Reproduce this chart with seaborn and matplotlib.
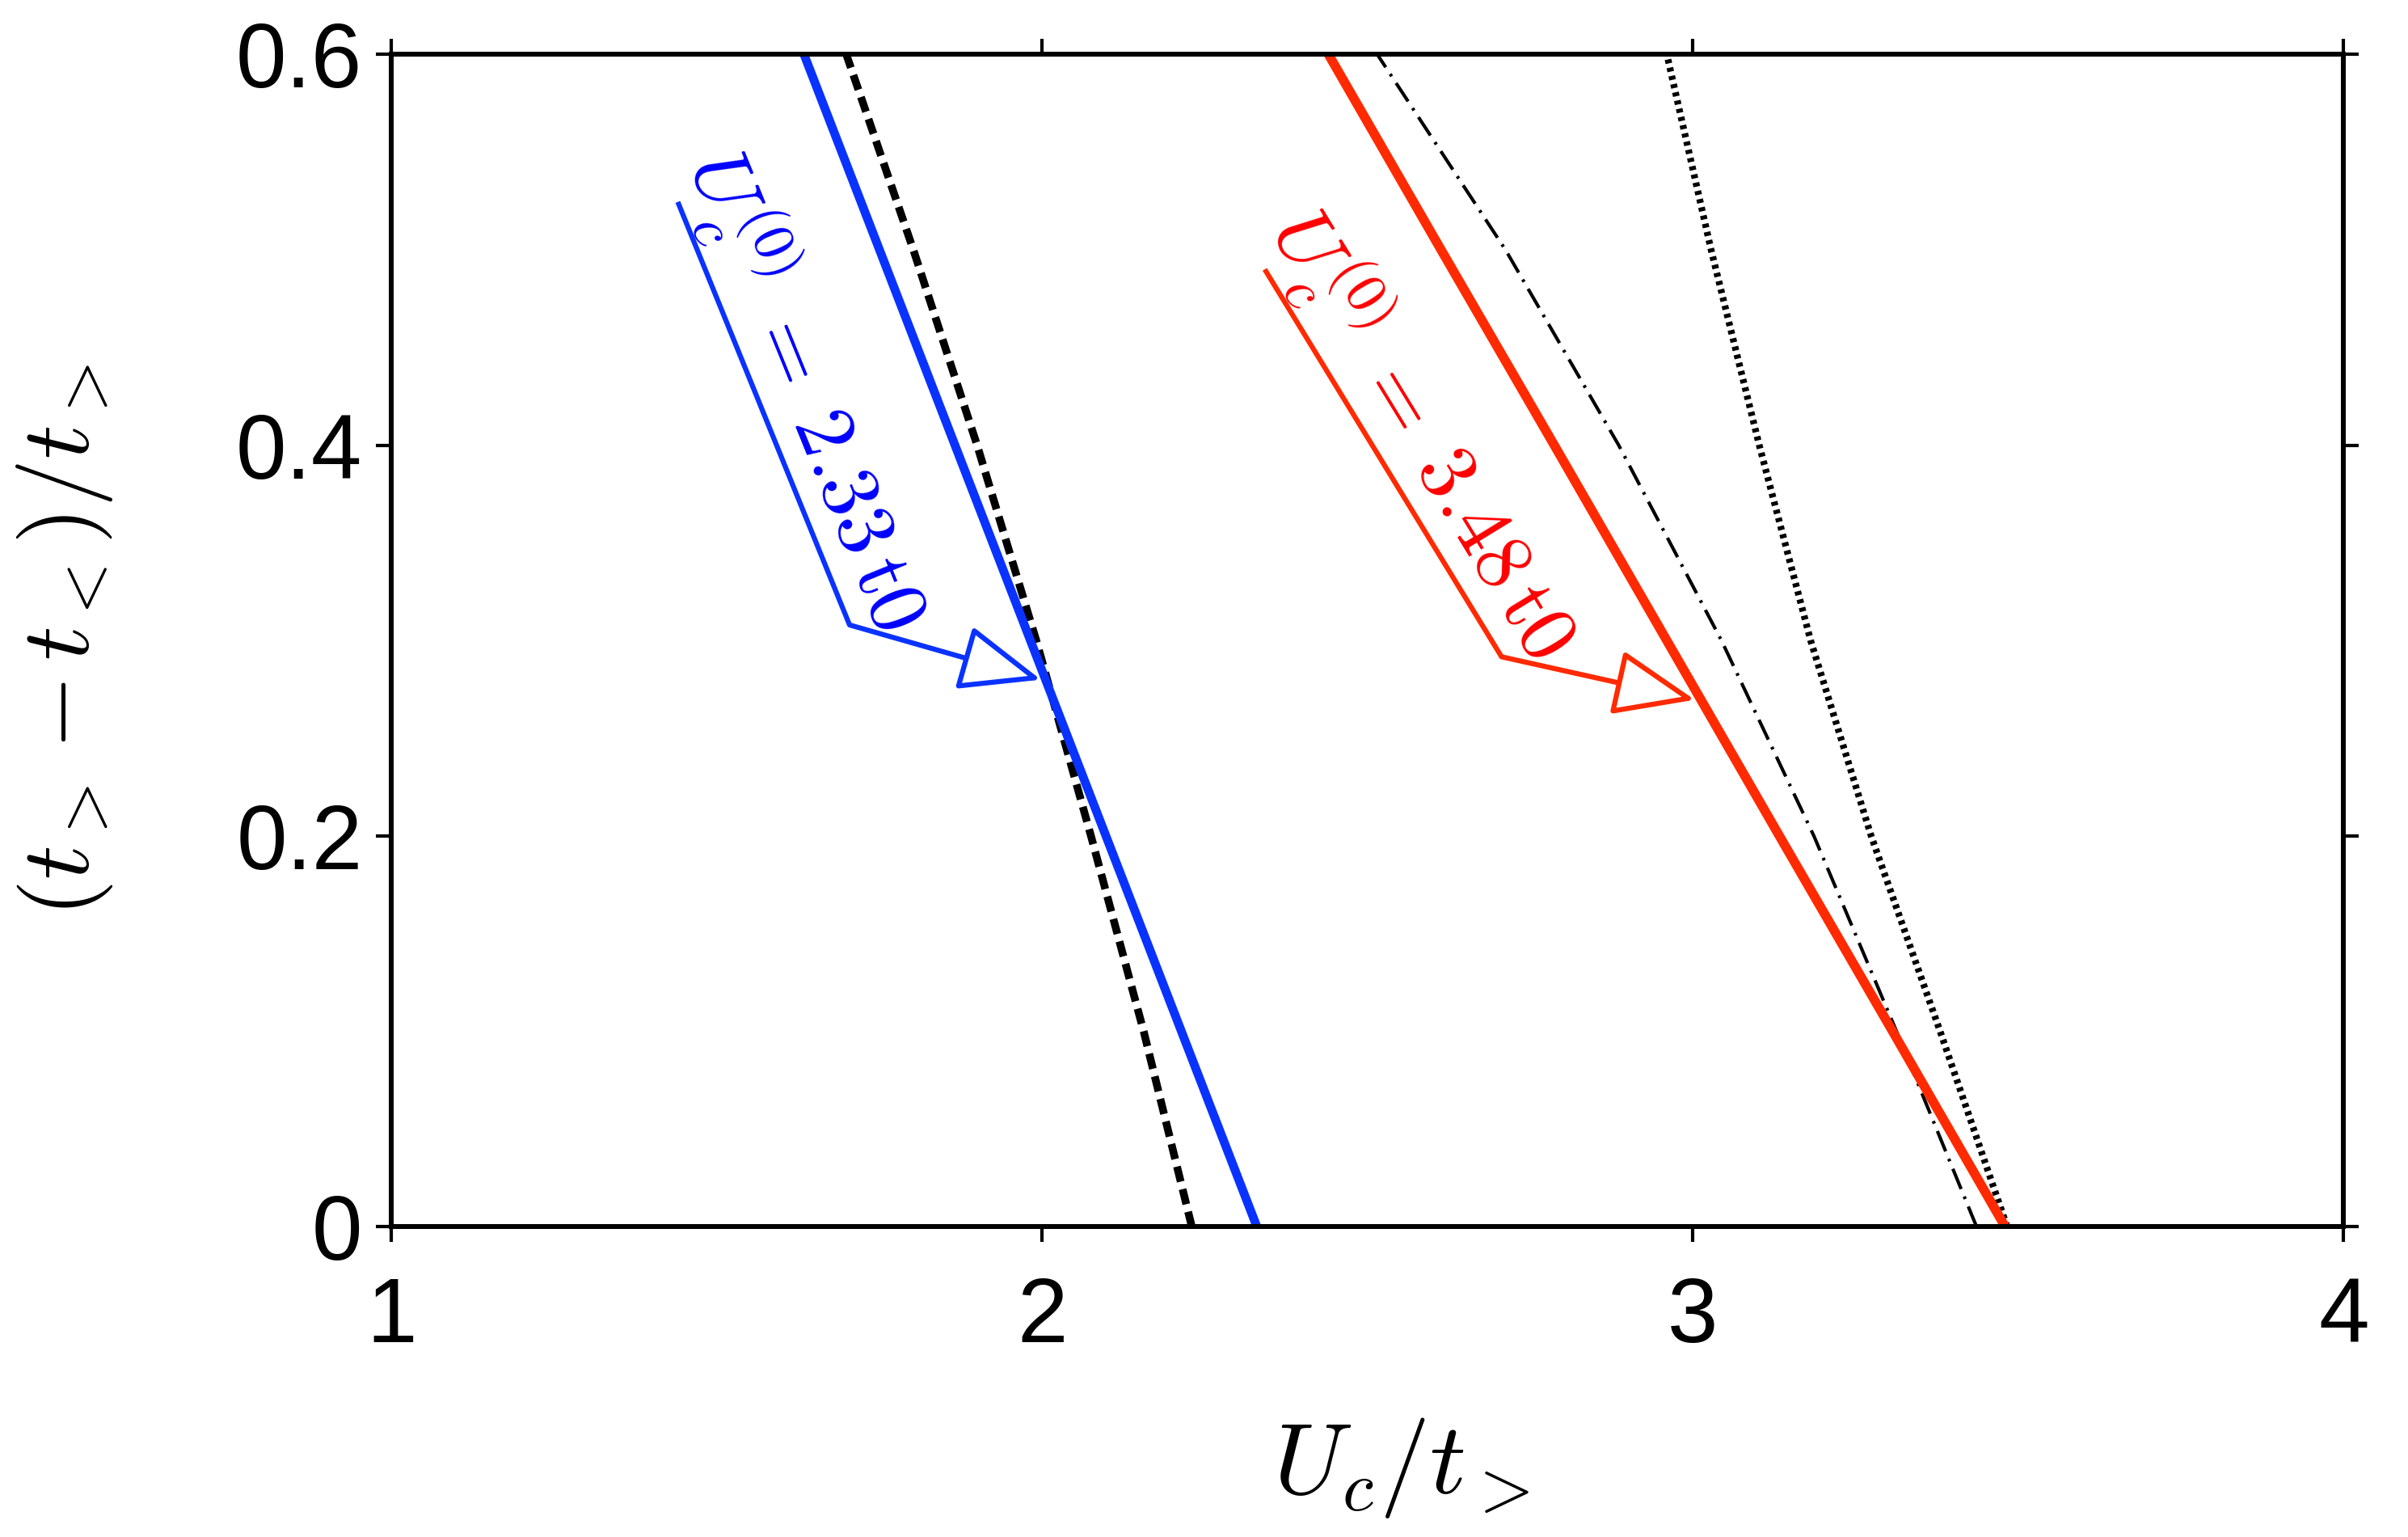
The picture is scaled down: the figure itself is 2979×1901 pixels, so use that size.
import numpy as np
import pandas as pd
import matplotlib
matplotlib.use("Agg")
import matplotlib.pyplot as plt
from matplotlib.patches import ArrowStyle
import seaborn as sns

# values (x = U_c/t_>, y = (t_> - t_<)/t_>)
y_levels = [0.0, 0.1, 0.2, 0.3, 0.4, 0.5, 0.6]
blue_x = [2.330, 2.214, 2.098, 1.982, 1.866, 1.750, 1.634]
dashed_x = [2.230, 2.156, 2.075, 1.991, 1.900, 1.802, 1.699]
red_x = [3.480, 3.307, 3.133, 2.960, 2.787, 2.613, 2.440]
dashdot_x = [3.436, 3.313, 3.186, 3.044, 2.886, 2.712, 2.515]
dotted_x = [3.483, 3.380, 3.274, 3.181, 3.102, 3.028, 2.960]

x_ticks = [1, 2, 3, 4]
x_ticklabels = ["1", "2", "3", "4"]
y_ticks = [0, 0.2, 0.4, 0.6]
y_ticklabels = ["0", "0.2", "0.4", "0.6"]

# callouts: (start, bend, tip) and label
blue_callout = [(1.440, 0.5245), (1.704, 0.308), (1.998, 0.280)]
red_callout = [(2.342, 0.490), (2.706, 0.2917), (3.003, 0.2697)]
blue_label = r"$U_c^{(0)}\;{=}\;2.33\,\mathrm{t0}$"
red_label = r"$U_c^{(0)}\;{=}\;3.48\,\mathrm{t0}$"

BLUE = "#0A32FF"
RED = "#FF2A00"

sns.set_style("ticks")
plt.rcParams["font.family"] = ["Liberation Sans", "DejaVu Sans"]
plt.rcParams["mathtext.fontset"] = "cm"

fig = plt.figure(figsize=(2979 / 300, 1901 / 300), dpi=300)
ax = fig.add_axes([0.16257, 0.20184, 0.97325 - 0.16257, 0.9646 - 0.20184])

df = pd.DataFrame({
    "y": y_levels,
    "blue": blue_x,
    "dashed": dashed_x,
    "red": red_x,
    "dashdot": dashdot_x,
    "dotted": dotted_x,
})

# black reference curves first, colored ones on top
sns.lineplot(data=df, x="dashed", y="y", orient="y", color="black", lw=2.3,
             linestyle=(0, (2.0, 1.0)), ax=ax)
sns.lineplot(data=df, x="dashdot", y="y", orient="y", color="black", lw=1.0,
             linestyle=(0, (6.5, 2.4, 0.8, 2.4)), ax=ax)
sns.lineplot(data=df, x="dotted", y="y", orient="y", color="black", lw=2.0,
             linestyle=(0, (0.6, 0.65)), ax=ax)
sns.lineplot(data=df, x="blue", y="y", orient="y", color=BLUE, lw=2.6, ax=ax)
sns.lineplot(data=df, x="red", y="y", orient="y", color=RED, lw=2.8, ax=ax)

ax.set_xlim(1, 4)
ax.set_ylim(0, 0.6)
ax.set_xticks(x_ticks)
ax.set_xticklabels(x_ticklabels)
ax.set_yticks(y_ticks)
ax.set_yticklabels(y_ticklabels)
ax.tick_params(axis="both", which="major", direction="out", length=4.6, width=1.0,
               top=True, right=True, labelsize=27, color="black", labelcolor="black")
ax.tick_params(axis="x", pad=10)
ax.tick_params(axis="y", pad=4)
for s in ax.spines.values():
    s.set_visible(True)
    s.set_linewidth(1.45)
    s.set_color("black")

ax.set_xlabel(r"$U_c/t_>$", fontsize=30, labelpad=16, color="black")
ax.xaxis.label.set_x(0.517)
ax.set_ylabel(r"$(t_>\,{-}\,t_<)/t_>$", fontsize=28.5, labelpad=36, color="black")


def callout(pts, label, line_color, text_color):
    start, bend, tip = pts
    ax.plot([start[0], bend[0]], [start[1], bend[1]], color=line_color, lw=1.5,
            solid_capstyle="butt")
    ax.annotate("", xy=tip, xytext=bend,
                arrowprops=dict(arrowstyle=ArrowStyle("-|>", head_length=2.1, head_width=0.85),
                                ec=line_color, fc="white", lw=1.5,
                                shrinkA=0, shrinkB=0, mutation_scale=10))
    p0 = ax.transData.transform(start)
    p1 = ax.transData.transform(bend)
    a = np.arctan2(p1[1] - p0[1], p1[0] - p0[0])
    along = np.array([np.cos(a), np.sin(a)])
    up = np.array([-np.sin(a), np.cos(a)])
    off = up * 7 + along * (-9)
    ax.annotate(label, xy=start, xytext=(off[0], off[1]), textcoords="offset points",
                rotation=np.degrees(a), rotation_mode="anchor", ha="left", va="baseline",
                fontsize=24.5, color=text_color)


callout(blue_callout, blue_label, BLUE, "#0000FF")
callout(red_callout, red_label, RED, "#FF0000")

fig.savefig("out.png", dpi=300)
